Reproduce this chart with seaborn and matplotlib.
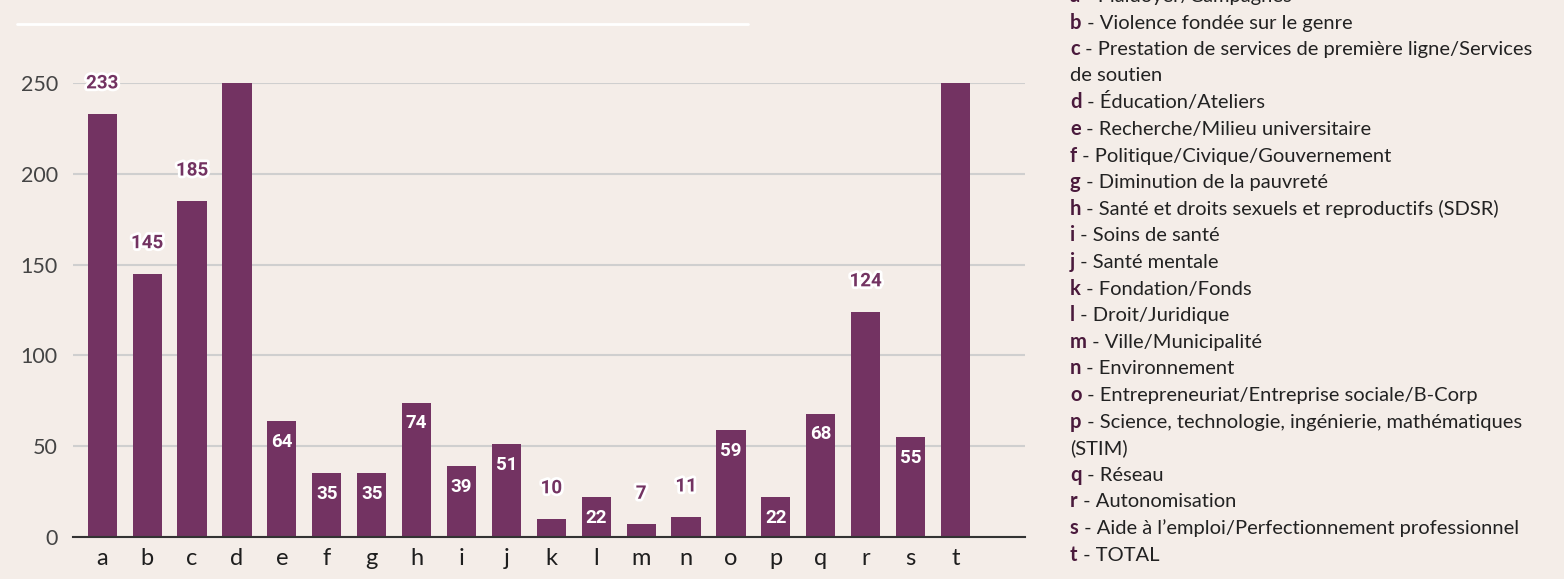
import matplotlib
matplotlib.use('Agg')
import matplotlib.pyplot as plt
import matplotlib.patheffects as pe
from matplotlib.lines import Line2D
from matplotlib.offsetbox import TextArea, HPacker, AnnotationBbox
import seaborn as sns
import pandas as pd

letters = ['a', 'b', 'c', 'd', 'e', 'f', 'g', 'h', 'i', 'j',
           'k', 'l', 'm', 'n', 'o', 'p', 'q', 'r', 's', 't']
# d and t run past the top of the axis, their values are estimates
counts = [233, 145, 185, 290, 64, 35, 35, 74, 39, 51,
          10, 22, 7, 11, 59, 22, 68, 124, 55, 1400]
outside = ['a', 'b', 'c', 'k', 'm', 'n', 'r']
descriptions = [
    'Plaidoyer/Campagnes',
    'Violence fondée sur le genre',
    'Prestation de services de première ligne/Services',
    'Éducation/Ateliers',
    'Recherche/Milieu universitaire',
    'Politique/Civique/Gouvernement',
    'Diminution de la pauvreté',
    'Santé et droits sexuels et reproductifs (SDSR)',
    'Soins de santé',
    'Santé mentale',
    'Fondation/Fonds',
    'Droit/Juridique',
    'Ville/Municipalité',
    'Environnement',
    'Entrepreneuriat/Entreprise sociale/B-Corp',
    'Science, technologie, ingénierie, mathématiques',
    'Réseau',
    'Autonomisation',
    'Aide à l\u2019emploi/Perfectionnement professionnel',
    'TOTAL',
]
continuations = {'c': 'de soutien', 'p': '(STIM)'}

df = pd.DataFrame({'cat': letters, 'n': counts})

bg = '#f4ede8'
purple = '#733362'

sns.set_theme(style='white')
plt.rcParams['font.family'] = ['Lato', 'DejaVu Sans']

fig = plt.figure(figsize=(15.64, 5.79), dpi=100, facecolor=bg)
ax = fig.add_axes([0.0467, 0.0725, 0.6087, 0.784], facecolor=bg)

sns.barplot(data=df, x='cat', y='n', color=purple, saturation=1, width=0.65,
            linewidth=0, ax=ax, zorder=3)

ax.set_ylim(0, 250)
ax.set_xlim(-0.65, 20.55)
ax.set_yticks([0, 50, 100, 150, 200, 250])
ax.yaxis.grid(True, color='#cfcfcf', linewidth=1.5, zorder=0)
ax.set_axisbelow(True)
for s in ['top', 'right', 'left']:
    ax.spines[s].set_visible(False)
ax.spines['bottom'].set_color('#333333')
ax.spines['bottom'].set_linewidth(1.5)
ax.spines['bottom'].set_zorder(4)
ax.tick_params(axis='y', length=0, pad=11, labelsize=15.5, labelcolor='#444444')
ax.tick_params(axis='x', length=0, pad=8, labelsize=17, labelcolor='#1e1e1e')
ax.set_xlabel('')
ax.set_ylabel('')

for i, (c, v) in enumerate(zip(letters, counts)):
    if v > 250:
        continue
    if c in outside:
        ax.annotate(str(v), (i, v), xytext=(0, 22), textcoords='offset points',
                    ha='center', va='center', fontsize=13.5, fontweight='bold',
                    family=['Roboto', 'DejaVu Sans'], color=purple, zorder=6,
                    annotation_clip=False,
                    path_effects=[pe.withStroke(linewidth=4, foreground='white')])
    else:
        ax.annotate(str(v), (i, v), xytext=(0, -15), textcoords='offset points',
                    ha='center', va='center', fontsize=13.5, fontweight='bold',
                    family=['Roboto', 'DejaVu Sans'], color='white', zorder=6)

# white separator line under the (cropped) title
fig.add_artist(Line2D([17 / 1564, 748 / 1564], [1 - 24 / 579, 1 - 24 / 579],
                      transform=fig.transFigure, color='white', linewidth=2))

# legend on the right
x0 = 1070
y = -4
step = 26.6
for c, d in zip(letters, descriptions):
    pack = HPacker(children=[
        TextArea(c, textprops=dict(fontsize=14.5, fontweight='bold', color='#4a1a3c')),
        TextArea(' - ' + d, textprops=dict(fontsize=14.5, color='#222222')),
    ], align='baseline', pad=0, sep=0)
    ab = AnnotationBbox(pack, (x0, 579 - y), xycoords='figure pixels',
                        box_alignment=(0, 0.5), frameon=False, pad=0,
                        annotation_clip=False)
    fig.add_artist(ab)
    y += step
    if c in continuations:
        fig.text(x0 / 1564, 1 - y / 579, continuations[c], fontsize=14.5,
                 color='#222222', ha='left', va='center')
        y += step

fig.savefig('out.png', dpi=100, facecolor=bg)
